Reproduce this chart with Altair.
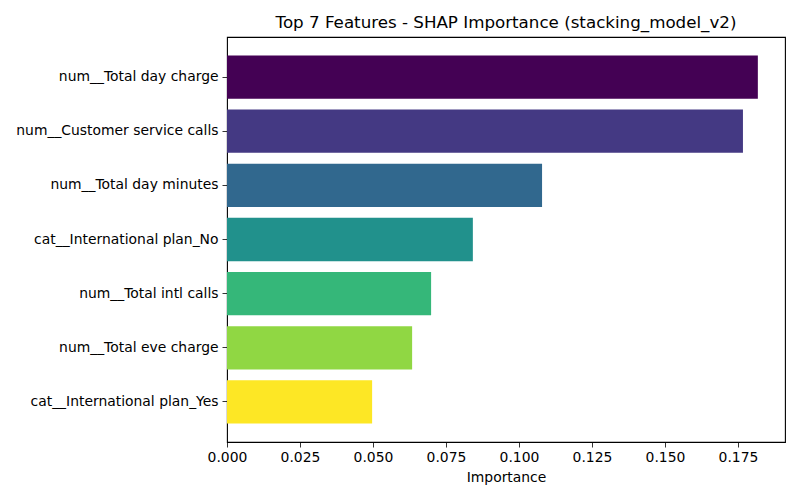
import altair as alt
import pandas as pd

features = [
    "num__Total day charge",
    "num__Customer service calls",
    "num__Total day minutes",
    "cat__International plan_No",
    "num__Total intl calls",
    "num__Total eve charge",
    "cat__International plan_Yes",
]
importance = [0.1818, 0.1767, 0.1079, 0.0842, 0.0699, 0.0634, 0.0497]
colors = ["#440154", "#443983", "#31688e", "#21918c", "#35b779", "#90d743", "#fde725"]
x_ticks = [0.0, 0.025, 0.05, 0.075, 0.1, 0.125, 0.15, 0.175]

df = pd.DataFrame({"feature": features, "importance": importance, "color": colors})

FONT = "DejaVu Sans"

chart = alt.Chart(df).mark_bar().encode(
    x=alt.X(
        "importance:Q",
        scale=alt.Scale(domain=[0, 0.1911], nice=False, zero=True),
        axis=alt.Axis(
            title="Importance", values=x_ticks, format=".3f", grid=False,
            domain=False, tickColor="black", tickSize=5, tickWidth=0.8,
            labelColor="black", labelFont=FONT, labelFontSize=13.9, labelPadding=3,
            titleFont=FONT, titleFontSize=13.9, titleFontWeight="normal",
            titleColor="black", titlePadding=7, labelFlush=False,
        ),
    ),
    y=alt.Y(
        "feature:N",
        sort=features,
        scale=alt.Scale(paddingInner=0.2, paddingOuter=0.34),
        axis=alt.Axis(
            title=None, domain=False, tickColor="black", tickSize=5, tickWidth=0.8,
            labelColor="black", labelFont=FONT, labelFontSize=13.9, labelPadding=4,
            labelLimit=300,
        ),
    ),
    color=alt.Color("color:N", scale=None, legend=None),
).properties(
    width=558,
    height=405,
    autosize=alt.AutoSizeParams(type="none"),
    padding={"left": 219, "top": 29, "right": 7, "bottom": 45},
    title=alt.TitleParams(
        "Top 7 Features - SHAP Importance (stacking_model_v2)",
        font=FONT, fontSize=16.7, fontWeight="normal", color="black",
        anchor="middle", offset=5,
    ),
).configure(
    background="white",
).configure_view(
    stroke="black", strokeWidth=1.1,
)

chart.save("out.html", embed_options={"renderer": "svg", "actions": False})
